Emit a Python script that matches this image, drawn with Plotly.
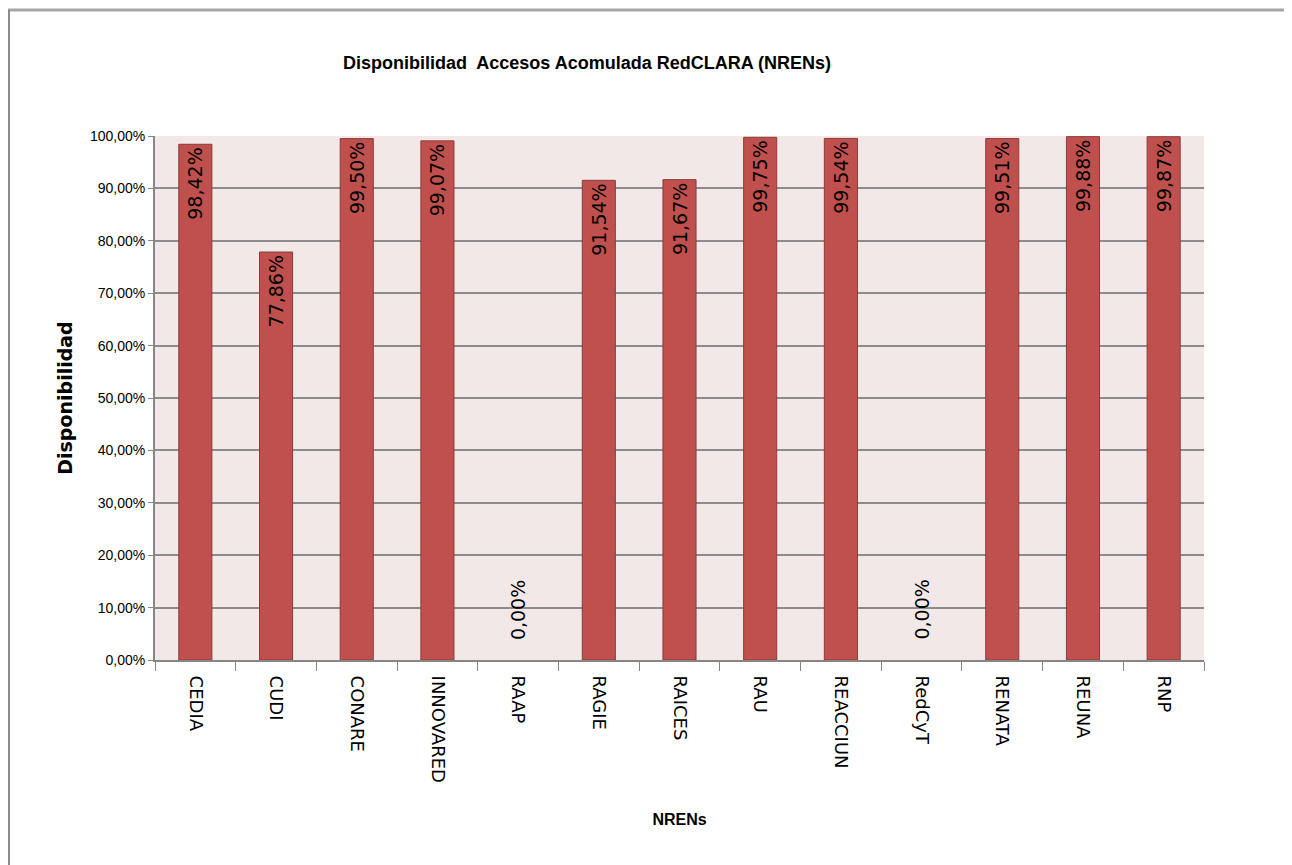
import plotly.graph_objects as go

categories = ["CEDIA", "CUDI", "CONARE", "INNOVARED", "RAAP", "RAGIE", "RAICES",
              "RAU", "REACCIUN", "RedCyT", "RENATA", "REUNA", "RNP"]
values = [98.42, 77.86, 99.50, 99.07, 0.00, 91.54, 91.67, 99.75, 99.54, 0.00, 99.51, 99.88, 99.87]
y_ticks = [0, 10, 20, 30, 40, 50, 60, 70, 80, 90, 100]

title_text = "Disponibilidad  Accesos Acomulada RedCLARA (NRENs)"
x_title = "NRENs"
y_title = "Disponibilidad"

def fmt(v):
    return f"{v:.2f}".replace(".", ",") + "%"

labels = [fmt(v) if v > 0 else "" for v in values]
outline_w = [1 if v > 0 else 0 for v in values]

NARROW = "Liberation Sans, Arial, sans-serif"
WIDE = "DejaVu Sans, Verdana, sans-serif"

fig = go.Figure()
fig.add_trace(go.Bar(
    x=categories, y=values,
    marker=dict(color="#C0504D", line=dict(color="#8C3B39", width=outline_w)),
    text=labels, textposition="inside", insidetextanchor="end",
    textangle=-90, textfont=dict(family=WIDE, size=19, color="#000000"),
    constraintext="none", cliponaxis=False, hoverinfo="skip",
))

# labels for zero-valued bars
for c, v in zip(categories, values):
    if v == 0:
        fig.add_annotation(x=c, y=v, text=fmt(v), showarrow=False, textangle=-90,
                           yanchor="bottom", yshift=18,
                           font=dict(family=WIDE, size=19, color="#000000"))

W, H = 1292, 865
ml, mr, mt, mb = 147, 96, 128, 213
pw, ph = W - ml - mr, H - mt - mb

# frame lines of the original picture (top and left edges)
ytop = 1 + (mt - 2) / ph
fig.add_shape(type="line", xref="paper", yref="paper",
              x0=-ml / pw, x1=(W - ml) / pw, y0=ytop, y1=ytop,
              line=dict(color="#A6A6A6", width=3))
fig.add_shape(type="line", xref="paper", yref="paper",
              x0=(1 - ml) / pw, x1=(1 - ml) / pw, y0=ytop, y1=-(mb) / ph,
              line=dict(color="#8C8C8C", width=2))

fig.update_layout(
    width=W, height=H,
    margin=dict(l=ml, r=mr, t=mt, b=mb),
    paper_bgcolor="#FFFFFF", plot_bgcolor="#F2E8E8",
    bargap=0.59,
    showlegend=False,
    title=dict(text=title_text, x=(587 - 8) / W, xref="container", xanchor="center",
               y=1 - (63 - 8) / H, yref="container", yanchor="middle",
               font=dict(family=NARROW, size=18, color="#000000", weight="bold")),
    xaxis=dict(
        type="category", tickangle=90, tickson="boundaries",
        ticks="outside", ticklen=9, tickcolor="#868686", tickwidth=1,
        ticklabelstandoff=10,
        showline=True, linecolor="#868686", linewidth=2,
        showgrid=False,
        tickfont=dict(family=WIDE, size=18, color="#000000"),
        title=dict(text=x_title, standoff=32,
                   font=dict(family=NARROW, size=16, color="#000000", weight="bold")),
    ),
    yaxis=dict(
        range=[0, 100], tickvals=y_ticks, ticktext=[fmt(t) for t in y_ticks],
        ticks="outside", ticklen=5, tickcolor="#868686",
        showline=True, linecolor="#868686", linewidth=2,
        showgrid=True, gridcolor="#8C8C8C", gridwidth=2,
        zeroline=False,
        tickfont=dict(family=NARROW, size=14, color="#000000"),
        title=dict(text=y_title, standoff=12,
                   font=dict(family=WIDE, size=19, color="#000000", weight="bold")),
    ),
)

fig.write_html("out.html")
